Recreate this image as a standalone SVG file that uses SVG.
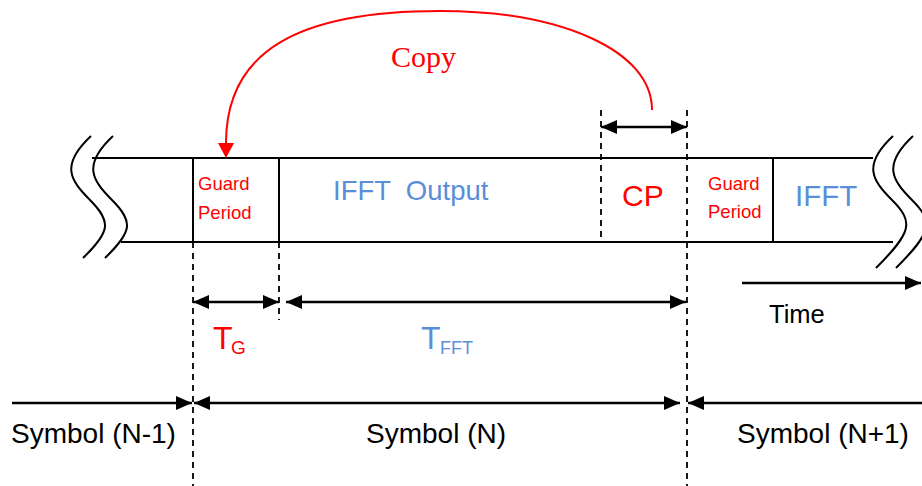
<svg xmlns="http://www.w3.org/2000/svg" width="922" height="486" viewBox="0 0 922 486">
<style>
.box{stroke:#000;stroke-width:2;fill:none}
.brk{stroke:#000;stroke-width:2;fill:none}
.dash{stroke:#000;stroke-width:1.8;stroke-dasharray:6,5;fill:none}
.arr{stroke:#000;stroke-width:2.5;fill:none}
.red{fill:#FF0000}
.blue{fill:#5A8ED8}
.sans{font-family:"Liberation Sans",Arial,sans-serif}
.blk{fill:#000}
</style>
<defs>
<marker id="ah" viewBox="0 0 16 14" refX="16" refY="7" markerWidth="16" markerHeight="14" markerUnits="userSpaceOnUse" orient="auto-start-reverse">
<path d="M0,0 L16,7 L0,14 z" fill="#000"/>
</marker>
</defs>
<rect width="922" height="486" fill="#fff"/>
<g id="timeline">
<line class="box" x1="92" y1="158" x2="873" y2="158"/>
<line class="box" x1="121" y1="242" x2="893" y2="242"/>
<path class="brk" d="M91,136 C60,165 70,180 90,200 C112,222 110,232 83,258"/>
<path class="brk" d="M113,136 C82,165 92,180 112,200 C134,222 132,232 105,258"/>
<path class="brk" d="M893,136 C862,165 872,180 892,200 C914,222 912,232 876,268"/>
<path class="brk" d="M913,136 C882,165 892,180 912,200 C934,222 932,232 896,268"/>
</g>
<g id="guard1">
<line class="box" x1="193" y1="158" x2="193" y2="242"/>
<line class="box" x1="279" y1="158" x2="279" y2="242"/>
<text class="sans red" x="198" y="190" font-size="18.5">Guard</text>
<text class="sans red" x="198" y="219" font-size="18.5">Period</text>
</g>
<g id="ifft-output">
<text class="sans blue" x="333" y="200" font-size="27.5" xml:space="preserve">IFFT  Output</text>
</g>
<g id="cp">
<text class="sans red" x="622" y="206" font-size="30">CP</text>
</g>
<g id="guard2">
<line class="box" x1="773" y1="158" x2="773" y2="242"/>
<text class="sans red" x="708" y="190" font-size="18.5">Guard</text>
<text class="sans red" x="708" y="218" font-size="18.5">Period</text>
</g>
<g id="ifft-next">
<text class="sans blue" x="795" y="206" font-size="29.5">IFFT</text>
</g>
<g id="connectors">
<line class="dash" x1="193" y1="242" x2="193" y2="486"/>
<line class="dash" x1="279" y1="242" x2="279" y2="320"/>
<line class="dash" x1="601" y1="110" x2="601" y2="242"/>
<line class="dash" x1="687" y1="110" x2="687" y2="486"/>
<line class="arr" x1="601" y1="127" x2="687" y2="127" marker-start="url(#ah)" marker-end="url(#ah)"/>
<line class="arr" x1="193" y1="302" x2="279" y2="302" marker-start="url(#ah)" marker-end="url(#ah)"/>
<line class="arr" x1="286" y1="302" x2="686" y2="302" marker-start="url(#ah)" marker-end="url(#ah)"/>
<line class="arr" x1="12" y1="403" x2="192" y2="403" marker-end="url(#ah)"/>
<line class="arr" x1="194" y1="403" x2="680" y2="403" marker-start="url(#ah)" marker-end="url(#ah)"/>
<line class="arr" x1="688" y1="403" x2="922" y2="403" marker-start="url(#ah)"/>
<line class="arr" x1="742" y1="283" x2="921" y2="283" marker-end="url(#ah)"/>
<path d="M652,110 C652,50 560,11 440,11 C300,11 226,50 226,143" stroke="#FF0000" stroke-width="2" fill="none"/>
<polygon points="226,158 218,143 234,143" fill="#FF0000"/>
</g>
<g id="labels">
<text x="391" y="67" font-family="'Liberation Serif','Times New Roman',serif" font-size="30" fill="#FF0000">Copy</text>
<text class="sans red" x="213" y="349" font-size="32">T</text>
<text class="sans red" x="231" y="354" font-size="19">G</text>
<text class="sans blue" x="421" y="349" font-size="32">T</text>
<text class="sans blue" x="440" y="354" font-size="18">FFT</text>
<text class="sans blk" x="769" y="323" font-size="25.5">Time</text>
<text class="sans blk" x="11" y="443" font-size="28">Symbol (N-1)</text>
<text class="sans blk" x="366" y="443" font-size="28">Symbol (N)</text>
<text class="sans blk" x="737" y="443" font-size="28">Symbol (N+1)</text>
</g>
</svg>
